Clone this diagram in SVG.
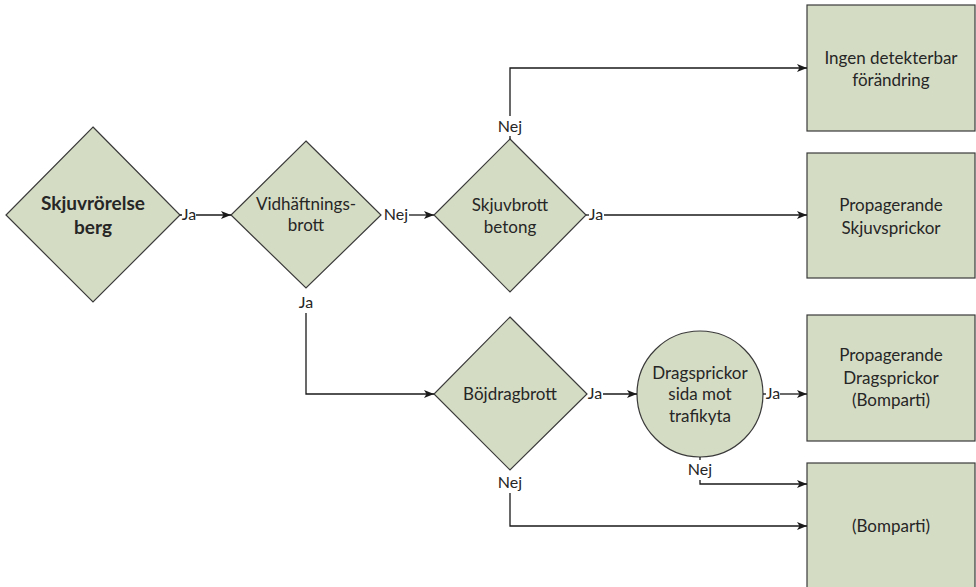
<svg xmlns="http://www.w3.org/2000/svg" width="976" height="587" viewBox="0 0 976 587">
  <style>
    .shape { fill: #d5dcc4; stroke: #3a3a3a; stroke-width: 1.2; }
    .txt { font-family: Lato, "Open Sans", sans-serif; font-size: 17px; fill: #262626; text-anchor: middle; }
    .bold { font-weight: bold; font-size: 19px; }
    .lbl { font-family: Lato, "Open Sans", sans-serif; font-size: 16px; fill: #262626; text-anchor: middle; }
    .edge { fill: none; stroke: #1a1a1a; stroke-width: 1.3; }
  </style>
  <defs>
    <marker id="arrow" viewBox="0 0 10 8" refX="10" refY="4" markerWidth="10" markerHeight="8" markerUnits="userSpaceOnUse" orient="auto">
      <path d="M0,0 L10,4 L0,8 L2.5,4 z" fill="#1a1a1a"/>
    </marker>
  </defs>

  <rect width="976" height="587" fill="#ffffff"/>

  <!-- decision: Skjuvrörelse berg -->
  <g id="skjuvrorelse">
    <polygon class="shape" points="93,127 180,215 93,302 6,215"/>
    <text class="txt bold" x="93" y="210">Skjuvrörelse</text>
    <text class="txt bold" x="93" y="234">berg</text>
  </g>

  <!-- decision: Vidhäftningsbrott -->
  <g id="vidhaftning">
    <polygon class="shape" points="306,141 381,215 306,288 231,215"/>
    <text class="txt" x="306" y="210">Vidhäftnings-</text>
    <text class="txt" x="306" y="231">brott</text>
  </g>

  <!-- decision: Skjuvbrott betong -->
  <g id="skjuvbrott">
    <polygon class="shape" points="510,139 586,215 510,292 434,215"/>
    <text class="txt" x="510" y="211">Skjuvbrott</text>
    <text class="txt" x="510" y="233">betong</text>
  </g>

  <!-- decision: Böjdragbrott -->
  <g id="bojdragbrott">
    <polygon class="shape" points="510,317 587,394 510,470 434,394"/>
    <text class="txt" x="510" y="400">Böjdragbrott</text>
  </g>

  <!-- check: Dragsprickor sida mot trafikyta -->
  <g id="dragsprickor">
    <circle class="shape" cx="700" cy="394" r="63"/>
    <text class="txt" x="700" y="379">Dragsprickor</text>
    <text class="txt" x="700" y="400">sida mot</text>
    <text class="txt" x="700" y="422">trafikyta</text>
  </g>

  <!-- outcome boxes -->
  <g id="ingen-forandring">
    <rect class="shape" x="807" y="5" width="168" height="126"/>
    <text class="txt" x="891" y="64">Ingen detekterbar</text>
    <text class="txt" x="891" y="86">förändring</text>
  </g>

  <g id="skjuvsprickor">
    <rect class="shape" x="807" y="153" width="168" height="125"/>
    <text class="txt" x="891" y="211">Propagerande</text>
    <text class="txt" x="891" y="234">Skjuvsprickor</text>
  </g>

  <g id="dragsprickor-bomparti">
    <rect class="shape" x="807" y="315" width="168" height="126"/>
    <text class="txt" x="891" y="361">Propagerande</text>
    <text class="txt" x="891" y="384">Dragsprickor</text>
    <text class="txt" x="891" y="406">(Bomparti)</text>
  </g>

  <g id="bomparti">
    <rect class="shape" x="807" y="463" width="168" height="128"/>
    <text class="txt" x="891" y="532">(Bomparti)</text>
  </g>

  <!-- connectors -->
  <g id="connectors">
    <!-- Skjuvrörelse -> Vidhäftning -->
    <line class="edge" x1="180" y1="215" x2="182" y2="215"/>
    <path class="edge" d="M196,215 H231" marker-end="url(#arrow)"/>
    <!-- Vidhäftning -> Skjuvbrott -->
    <path class="edge" d="M409,215 H434" marker-end="url(#arrow)"/>
    <!-- Skjuvbrott Nej -> Ingen förändring -->
    <line class="edge" x1="510" y1="139" x2="510" y2="136"/>
    <path class="edge" d="M510,116 V68 H807" marker-end="url(#arrow)"/>
    <!-- Skjuvbrott Ja -> Skjuvsprickor -->
    <line class="edge" x1="586" y1="215" x2="589" y2="215"/>
    <path class="edge" d="M604,215 H807" marker-end="url(#arrow)"/>
    <!-- Vidhäftning Ja -> Böjdragbrott -->
    <path class="edge" d="M306,313 V394 H434" marker-end="url(#arrow)"/>
    <!-- Böjdragbrott Ja -> Dragsprickor -->
    <path class="edge" d="M603,394 H637" marker-end="url(#arrow)"/>
    <!-- Dragsprickor Ja -> Propagerande Dragsprickor -->
    <line class="edge" x1="763" y1="394" x2="766" y2="394"/>
    <path class="edge" d="M780,394 H807" marker-end="url(#arrow)"/>
    <!-- Dragsprickor Nej -> Bomparti -->
    <line class="edge" x1="700" y1="457" x2="700" y2="460"/>
    <path class="edge" d="M700,480 V484 H807" marker-end="url(#arrow)"/>
    <!-- Böjdragbrott Nej -> Bomparti -->
    <path class="edge" d="M510,493 V526 H807" marker-end="url(#arrow)"/>

    <!-- branch labels -->
    <text class="lbl" x="189" y="220">Ja</text>
    <text class="lbl" x="396" y="220">Nej</text>
    <text class="lbl" x="510" y="132">Nej</text>
    <text class="lbl" x="596" y="220">Ja</text>
    <text class="lbl" x="306" y="308">Ja</text>
    <text class="lbl" x="595" y="399">Ja</text>
    <text class="lbl" x="773" y="399">Ja</text>
    <text class="lbl" x="700" y="475">Nej</text>
    <text class="lbl" x="510" y="488">Nej</text>
  </g>
</svg>
